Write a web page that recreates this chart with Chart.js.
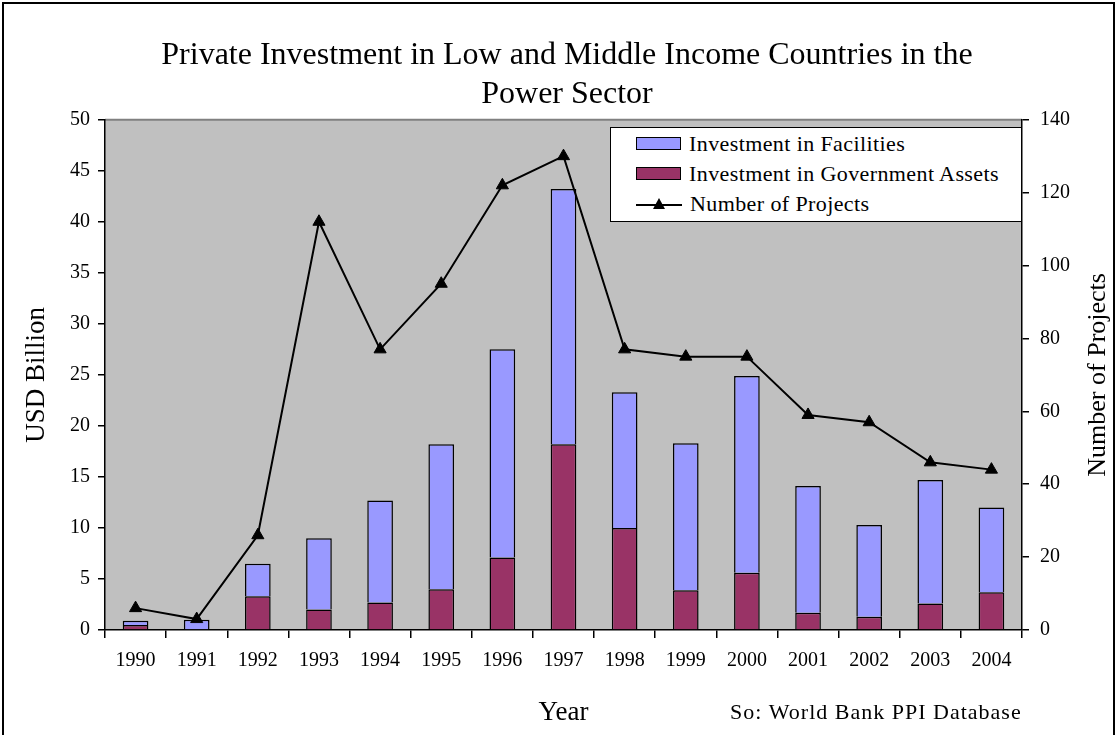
<!DOCTYPE html>
<html>
<head>
<meta charset="utf-8">
<script src="https://cdn.jsdelivr.net/npm/chart.js@4.4.1/dist/chart.umd.min.js"></script>
<style>
  body { margin: 0; background: #fff; }
  #wrap { position: relative; width: 1117px; height: 735px; }
  #leyenda {
    position: absolute; left: 610px; top: 127px; width: 410px; height: 93px;
    background: #fff; border: 1px solid #000;
    font-family: "Liberation Serif", serif; font-size: 22px; letter-spacing: 0.4px; color: #000;
  }
  .fila { position: absolute; left: 25px; height: 30px; line-height: 30px; white-space: nowrap; }
  .caja { display: inline-block; width: 43px; height: 11px; border: 1.5px solid #000; vertical-align: middle; margin-right: 8px; position: relative; top: -2px; }
  .linea { display: inline-block; width: 46px; height: 14px; vertical-align: middle; margin-right: 8px; position: relative; top: -2px; }
</style>
</head>
<body>
<div id="wrap">
  <canvas id="canvas" width="1117" height="735"></canvas>
  <div id="leyenda"></div>
</div>
<script>
// datos
const anios = ["1990","1991","1992","1993","1994","1995","1996","1997","1998","1999","2000","2001","2002","2003","2004"];
const invGobierno = [0.5, 0, 3.3, 2.0, 2.7, 4.0, 7.1, 18.2, 10.0, 3.9, 5.6, 1.7, 1.3, 2.6, 3.7];
const invInstalaciones = [0.4, 1.0, 3.2, 7.0, 10.0, 14.2, 20.4, 25.0, 13.3, 14.4, 19.3, 12.4, 9.0, 12.1, 8.3];
const proyectos = [6, 3, 26, 112, 77, 95, 122, 130, 77, 75, 75, 59, 57, 46, 44];

const fuente = "Liberation Serif";

// fondo gris del area del grafico, borde exterior y textos sueltos
const fondo = {
    id: 'fondo',
    beforeDraw(chart) {
        const ctx = chart.ctx;
        const a = chart.chartArea;
        ctx.save();
        ctx.fillStyle = '#fff';
        ctx.fillRect(0, 0, chart.width, chart.height);
        ctx.fillStyle = '#C0C0C0';
        ctx.fillRect(a.left, a.top, a.right - a.left, a.bottom - a.top);
        ctx.strokeStyle = '#808080';
        ctx.lineWidth = 2;
        ctx.beginPath();
        ctx.moveTo(a.left, a.top);
        ctx.lineTo(a.right, a.top);
        ctx.stroke();
        ctx.restore();
    },
    afterDraw(chart) {
        const ctx = chart.ctx;
        const a = chart.chartArea;
        ctx.save();
        ctx.strokeStyle = '#000';
        ctx.lineWidth = 2;
        ctx.strokeRect(3, 3, chart.width - 6, chart.height);
        ctx.fillStyle = '#000';
        ctx.textBaseline = 'middle';
        //texto de la fuente abajo a la derecha
        ctx.font = '22px "' + fuente + '"';
        ctx.letterSpacing = '1px';
        ctx.fillText('So: World Bank PPI Database', 730, 713);
        ctx.letterSpacing = '0px';
        //titulo del eje derecho, leido de abajo hacia arriba como en el original
        ctx.font = '26px "' + fuente + '"';
        ctx.textAlign = 'center';
        ctx.translate(1098, (a.top + a.bottom) / 2);
        ctx.rotate(-Math.PI / 2);
        ctx.fillText('Number of Projects', 0, 0);
        ctx.restore();
    }
};

const ctx = document.getElementById("canvas").getContext("2d");
const grafico = new Chart(ctx, {
    type: 'bar',
    data: {
        labels: anios,
        datasets: [
            {
                type: 'line',
                label: 'Number of Projects',
                data: proyectos,
                yAxisID: 'y1',
                borderColor: '#000',
                borderWidth: 2,
                backgroundColor: '#000',
                pointStyle: 'triangle',
                pointRadius: 7,
                pointBorderWidth: 1,
                tension: 0,
                order: 0
            },
            {
                label: 'Investment in Government Assets',
                data: invGobierno,
                backgroundColor: '#993366',
                borderColor: '#000',
                borderWidth: 1.5,
                yAxisID: 'y',
                order: 1
            },
            {
                label: 'Investment in Facilities',
                data: invInstalaciones,
                backgroundColor: '#9999FF',
                borderColor: '#000',
                borderWidth: 1.5,
                yAxisID: 'y',
                order: 1
            }
        ]
    },
    options: {
        responsive: false,
        animation: false,
        layout: { padding: { left: 17, right: 0, top: 0, bottom: 0 } },
        datasets: {
            bar: { categoryPercentage: 1, barPercentage: 0.42 }
        },
        plugins: {
            legend: { display: false },
            tooltip: { enabled: false },
            title: {
                display: true,
                text: ['Private Investment in Low and Middle Income Countries in the', 'Power Sector'],
                color: '#000',
                font: { family: fuente, size: 32, weight: 'normal', lineHeight: 1.23 },
                padding: { top: 36, bottom: 5 }
            }
        },
        scales: {
            x: {
                stacked: true,
                afterFit: (s) => { s.height = 105; },
                grid: { display: true, drawOnChartArea: false, offset: true, color: '#000', lineWidth: 1.5, tickLength: 8 },
                border: { color: '#000', width: 1.5 },
                ticks: { color: '#000', font: { family: fuente, size: 20 }, padding: 11, maxRotation: 0 },
                title: { display: true, text: 'Year', color: '#000', font: { family: fuente, size: 27 }, padding: { bottom: 6 } }
            },
            y: {
                stacked: true,
                position: 'left',
                min: 0, max: 50,
                afterFit: (s) => { s.width = 88; },
                grid: { drawOnChartArea: false, color: '#000', lineWidth: 1.5, tickLength: 7 },
                border: { color: '#000', width: 1.5 },
                ticks: { stepSize: 5, color: '#000', font: { family: fuente, size: 20 }, padding: 8 },
                title: { display: true, text: 'USD Billion', color: '#000', font: { family: fuente, size: 27 }, padding: { top: 4 } }
            },
            y1: {
                position: 'right',
                min: 0, max: 140,
                afterFit: (s) => { s.width = 95; },
                grid: { drawOnChartArea: false, color: '#000', lineWidth: 1.5, tickLength: 7 },
                border: { color: '#000', width: 1.5 },
                ticks: { stepSize: 20, color: '#000', font: { family: fuente, size: 20 }, padding: 11 },
                title: { display: false }
            }
        }
    },
    plugins: [fondo]
});

// leyenda en html, en el orden del grafico original
const armarLeyenda = (chart) => {
    const caja = document.getElementById("leyenda");
    const orden = [2, 1, 0];
    orden.forEach((idx, i) => {
        const ds = chart.data.datasets[idx];
        const fila = document.createElement("div");
        fila.className = "fila";
        fila.style.top = (1 + i * 30) + "px";
        let simbolo;
        if (ds.type === 'line') {
            simbolo = '<svg class="linea" viewBox="0 0 46 14"><line x1="0" y1="8" x2="46" y2="8" stroke="#000" stroke-width="2"/>' +
                '<polygon points="23,1 29,12 17,12" fill="#000"/></svg>';
        } else {
            simbolo = '<span class="caja" style="background:' + ds.backgroundColor + '"></span>';
        }
        fila.innerHTML = simbolo + ds.label;
        caja.appendChild(fila);
    });
};
armarLeyenda(grafico);
</script>
</body>
</html>
